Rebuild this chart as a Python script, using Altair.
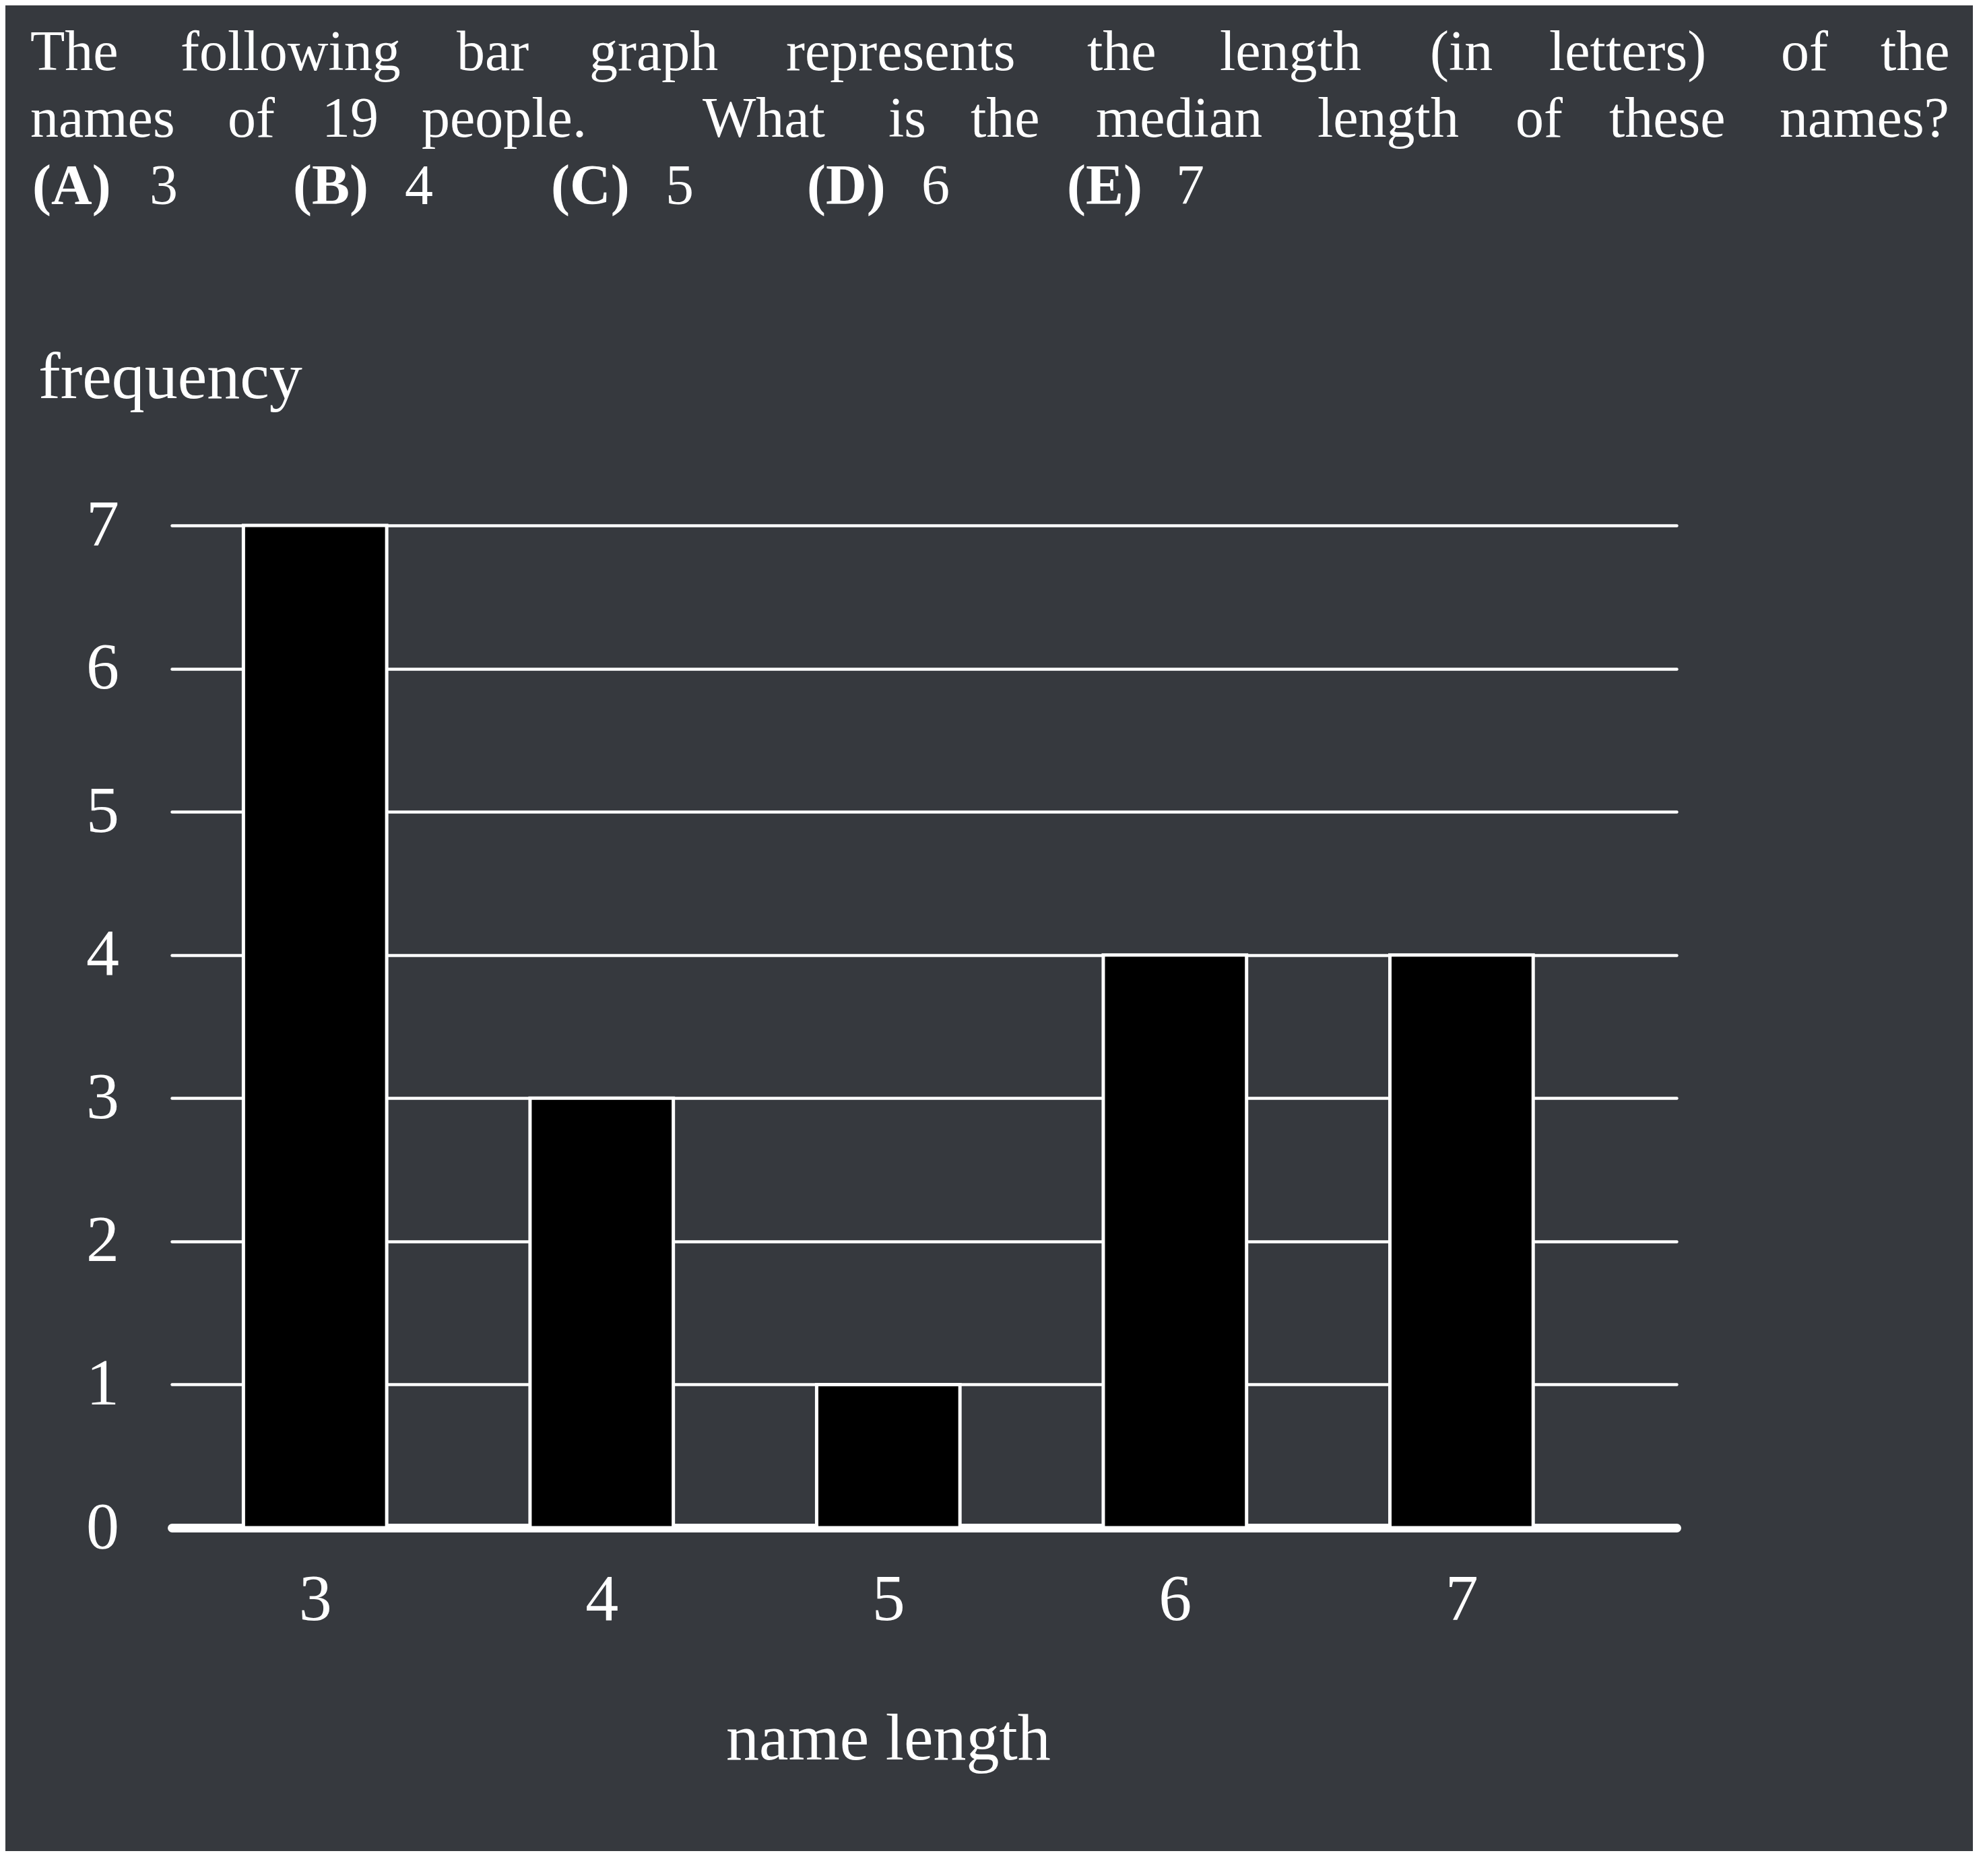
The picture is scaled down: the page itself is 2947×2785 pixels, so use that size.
import altair as alt
import pandas as pd

# ---------------- data ----------------
name_length = [3, 4, 5, 6, 7]
frequency = [7, 3, 1, 4, 4]

y_tick_values = [0, 1, 2, 3, 4, 5, 6, 7]
x_tick_values = [3, 4, 5, 6, 7]

line1_words = ["The", "following", "bar", "graph", "represents", "the", "length",
               "(in", "letters)", "of", "the"]
line2_words = ["names", "of", "19", "people.", "What", "is", "the", "median",
               "length", "of", "these", "names?"]
line3_words = ["(A)", "3", "(B)", "4", "(C)", "5", "(D)", "6", "(E)", "7"]
line3_bold = [True, False, True, False, True, False, True, False, True, False]

y_title = "frequency"
x_title = "name length"

# ---------------- layout (page pixels) ----------------
PLOT_LEFT, PLOT_TOP = 255, 780
W, H = 2234, 1488
line1_x = [45, 268, 678, 875, 1167, 1614, 1811, 2123, 2300, 2644, 2792]
line2_x = [45, 338, 478, 626, 1043, 1319, 1441, 1627, 1956, 2250, 2389, 2642]
line3_x = [48, 222, 435, 601, 818, 988, 1198, 1368, 1584, 1746]
line_baselines = [104, 203, 303]

BG = "#36393e"
FONT = "Liberation Serif"
FG = "#ffffff"

bars_df = pd.DataFrame({"length": name_length, "freq": frequency})

rows = []
for words, xs, base, bolds in [
    (line1_words, line1_x, line_baselines[0], [False] * len(line1_words)),
    (line2_words, line2_x, line_baselines[1], [False] * len(line2_words)),
    (line3_words, line3_x, line_baselines[2], line3_bold),
]:
    for w, x, b in zip(words, xs, bolds):
        rows.append({"word": w, "px": x - PLOT_LEFT, "py": base - PLOT_TOP, "bold": b})
words_df = pd.DataFrame(rows)

bars = alt.Chart(bars_df).transform_calculate(
    lo="datum.length - 0.25", hi="datum.length + 0.25"
).mark_rect(color="black", stroke="white", strokeWidth=5).encode(
    x=alt.X("lo:Q",
            scale=alt.Scale(domain=[2.5, 7.75], nice=False, zero=False),
            axis=alt.Axis(values=x_tick_values, format="d", title=None, grid=False,
                          domain=True, domainColor=FG, domainWidth=13, domainCap="round",
                          ticks=False, tickSize=0, labelPadding=107,
                          labelBaseline="middle", labelFont=FONT, labelFontSize=98,
                          labelColor=FG, labelFlush=False, labelOverlap=False)),
    x2="hi:Q",
    y=alt.Y("freq:Q",
            scale=alt.Scale(domain=[0, 7], nice=False),
            axis=alt.Axis(values=y_tick_values, format="d", title=None, grid=True,
                          gridColor=FG, gridWidth=4.5, gridCap="round", gridOpacity=1,
                          domain=False, ticks=False, tickSize=0, labelPadding=103,
                          labelAlign="center", labelBaseline="middle",
                          labelFont=FONT, labelFontSize=98, labelColor=FG,
                          labelFlush=False, labelOverlap=False)),
    y2=alt.datum(0),
)

words_normal = alt.Chart(words_df).transform_filter("!datum.bold").mark_text(
    align="left", baseline="alphabetic", font=FONT, fontSize=84, color=FG
).encode(
    x=alt.X("px:Q", scale=None), y=alt.Y("py:Q", scale=None), text="word:N"
)

words_bold = alt.Chart(words_df).transform_filter("datum.bold").mark_text(
    align="left", baseline="alphabetic", font=FONT, fontSize=84, color=FG,
    fontWeight="bold"
).encode(
    x=alt.X("px:Q", scale=None), y=alt.Y("py:Q", scale=None), text="word:N"
)

ylab = alt.Chart(pd.DataFrame({"t": [y_title]})).mark_text(
    align="left", baseline="alphabetic", font=FONT, fontSize=98, color=FG
).encode(x=alt.value(57 - PLOT_LEFT), y=alt.value(591 - PLOT_TOP), text="t:N")

xlab = alt.Chart(pd.DataFrame({"t": [x_title]})).mark_text(
    align="center", baseline="alphabetic", font=FONT, fontSize=98, color=FG
).encode(x=alt.datum(5), y=alt.value(2612 - PLOT_TOP), text="t:N")

chart = alt.layer(bars, words_normal, words_bold, ylab, xlab).properties(
    width=W, height=H,
    padding={"left": PLOT_LEFT - 8, "top": PLOT_TOP - 8, "right": 440, "bottom": 480},
    autosize=alt.AutoSizeParams(type="none"),
    background=BG,
).configure_view(stroke=None)

chart.save("out.html", embed_options={"renderer": "svg", "actions": False})
